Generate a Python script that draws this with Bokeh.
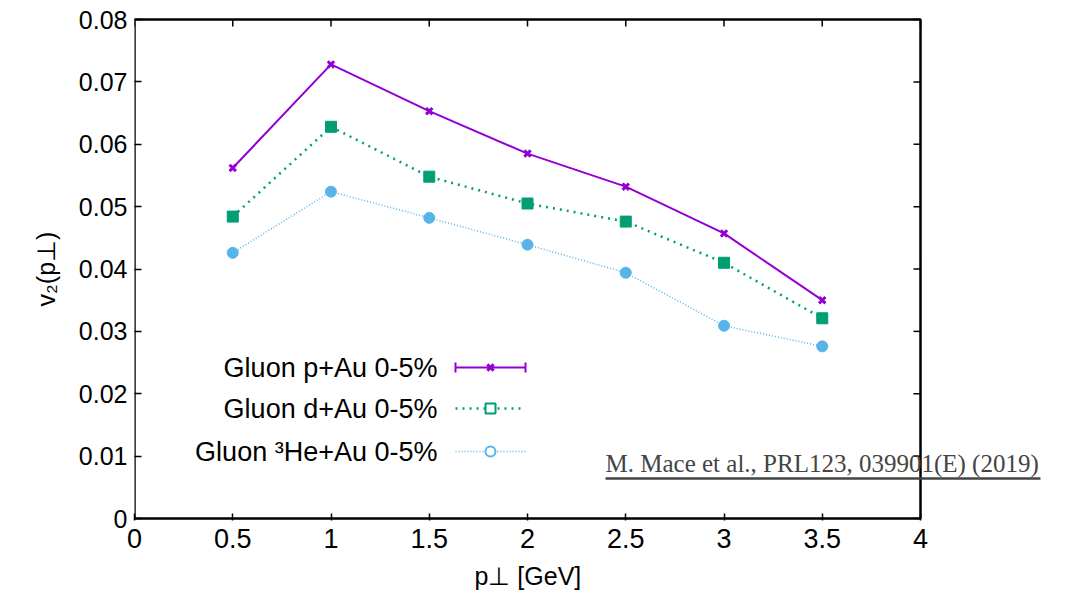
from bokeh.plotting import figure
from bokeh.models import Range1d, FixedTicker, Title
from bokeh.core.properties import value
from bokeh.embed import file_html
from bokeh.resources import INLINE

pt = [0.5, 1.0, 1.5, 2.0, 2.5, 3.0, 3.5]
v2_pAu = [0.0562, 0.0728, 0.0653, 0.0585, 0.0532, 0.0457, 0.0350]
v2_dAu = [0.0484, 0.0628, 0.0548, 0.0505, 0.0476, 0.0410, 0.0321]
v2_HeAu = [0.0426, 0.0524, 0.0482, 0.0439, 0.0394, 0.0309, 0.0276]
series_labels = ["Gluon p+Au 0-5%", "Gluon d+Au 0-5%", "Gluon \u00b3He+Au 0-5%"]
x_ticks = [0, 0.5, 1, 1.5, 2, 2.5, 3, 3.5, 4]
y_ticks = [0, 0.01, 0.02, 0.03, 0.04, 0.05, 0.06, 0.07, 0.08]
x_min, x_max = 0, 4
y_min, y_max = 0, 0.08
x_label = "p\u22a5 [GeV]"
y_label = "v\u2082(p\u22a5)"
citation = "M. Mace et al., PRL123, 039901(E) (2019)"

FONT = "Liberation Sans"
colors = ["#9400D3", "#009E73", "#56B4E9"]

# geometry: box from px 134..920 horizontally, 19..518 vertically.
# frame is extended to the right so the citation can overlap the box edge.
W, H = 1071, 598
box_l, box_r, box_t, box_b = 134, 920, 19, 518
frame_r = 1062
pad = 2
ppx = (box_r - box_l) / (x_max - x_min)
ppy = (box_b - box_t) / (y_max - y_min)
xr = Range1d(x_min, x_min + (frame_r - box_l) / ppx)
yr = Range1d(y_min - pad / ppy, y_max + pad / ppy)

p = figure(width=W, height=H, output_backend="svg", toolbar_location=None,
           x_range=xr, y_range=yr,
           min_border_left=box_l, min_border_right=W - frame_r,
           min_border_top=box_t - pad, min_border_bottom=H - box_b - pad)
p.grid.visible = False
p.outline_line_color = None

xa, ya = p.xaxis[0], p.yaxis[0]
for ax in [xa, ya]:
    ax.major_tick_in = 7
    ax.major_tick_out = 0
    ax.minor_tick_line_color = None
    ax.major_tick_line_width = 1.5
    ax.major_label_text_font = FONT
    ax.major_label_text_color = "black"
    ax.axis_label_text_font = FONT
    ax.axis_label_text_font_size = "25px"
    ax.axis_label_text_font_style = "normal"
    ax.axis_label_text_color = "black"
    ax.axis_line_color = None
xa.major_label_text_font_size = "27px"
ya.major_label_text_font_size = "25px"
xa.ticker = FixedTicker(ticks=x_ticks)
ya.ticker = FixedTicker(ticks=y_ticks)
xa.major_label_overrides = {t: ("%g" % t) for t in x_ticks}
ya.major_label_overrides = {t: ("%g" % t) for t in y_ticks}
xa.major_label_standoff = 8
ya.major_label_standoff = 7
ya.axis_label = y_label
ya.axis_label_standoff = 16

# x-axis label as a below-title, positioned under the box centre
spacer = Title(text=" ", text_font_size="7px", standoff=0)
p.add_layout(spacer, "below")
xt = Title(text=x_label, align="left", offset=474 - box_l, text_font=FONT,
           text_font_size="25px", text_font_style="normal", text_color="black", standoff=0)
p.add_layout(xt, "below")

# box
p.line([x_min, x_max, x_max, x_min, x_min], [y_min, y_min, y_max, y_max, y_min],
       line_color="black", line_width=2.5)
# mirrored inward ticks (top and right)
tick_dx = 7 / ppx
tick_dy = 7 / ppy
p.segment([x_max - tick_dx] * len(y_ticks), y_ticks, [x_max] * len(y_ticks), y_ticks,
          line_color="black", line_width=1.5)
p.segment(x_ticks, [y_max - tick_dy] * len(x_ticks), x_ticks, [y_max] * len(x_ticks),
          line_color="black", line_width=1.5)

# series
p.line(pt, v2_pAu, line_color=colors[0], line_width=2)
p.scatter(pt, v2_pAu, marker="x", size=9, line_color=colors[0], line_width=3)
p.line(pt, v2_dAu, line_color=colors[1], line_width=2.5, line_dash="2 5")
p.scatter(pt, v2_dAu, marker="square", size=11, fill_color=colors[1], line_color=colors[1])
p.line(pt, v2_HeAu, line_color=colors[2], line_width=1.5, line_dash="1 2")
p.scatter(pt, v2_HeAu, marker="circle", size=11, fill_color=colors[2], line_color=colors[2])

# manual legend (text on left, sample on right)
def xpx(px):
    return x_min + (px - box_l) / ppx

def ypx(py):
    return y_min + (box_b - py) / ppy

leg_text_x = xpx(437)
leg_x0, leg_x1, leg_xm = xpx(455), xpx(525), xpx(490)
leg_y = [ypx(367), ypx(408), ypx(451)]
dashes = ["solid", "2 5", "1 2"]
widths = [2, 2.5, 1.5]
for i in range(3):
    p.text([leg_text_x], [leg_y[i]], text=[series_labels[i]], text_align="right",
           text_baseline="middle", text_font=value(FONT), text_font_size="27px", text_color="black")
    p.line([leg_x0, leg_x1], [leg_y[i], leg_y[i]], line_color=colors[i], line_width=widths[i],
           line_dash=dashes[i])
bar = 5 / ppy
p.segment([leg_x0, leg_x1], [leg_y[0] - bar] * 2, [leg_x0, leg_x1], [leg_y[0] + bar] * 2,
          line_color=colors[0], line_width=2)
p.scatter([leg_xm], [leg_y[0]], marker="x", size=9, line_color=colors[0], line_width=3)
p.scatter([leg_xm], [leg_y[1]], marker="square", size=10, fill_color="white", line_color=colors[1], line_width=2)
p.scatter([leg_xm], [leg_y[2]], marker="circle", size=10, fill_color="white", line_color=colors[2], line_width=2)

# citation with underline
p.text([xpx(605)], [ypx(463)], text=[citation], text_align="left", text_baseline="middle",
       text_font=value("Liberation Serif"), text_font_size="25px", text_color="#444444")
p.line([xpx(605), xpx(1040)], [ypx(478), ypx(478)], line_color="#444444", line_width=2.5)

open("out.html", "w").write(file_html(p, INLINE))
